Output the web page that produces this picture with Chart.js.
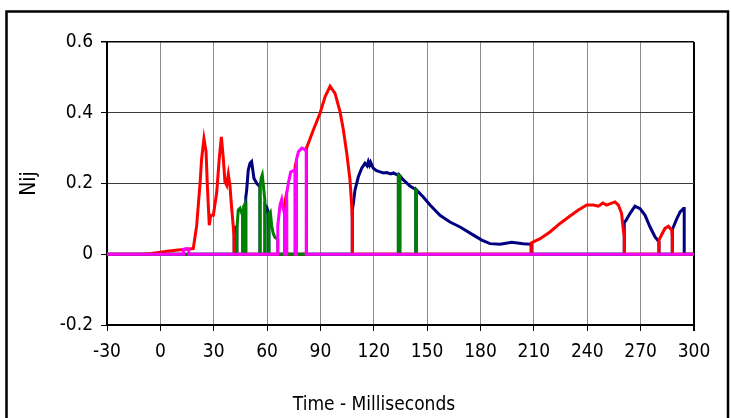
<!DOCTYPE html>
<html>
<head>
<meta charset="utf-8">
<script src="https://cdn.jsdelivr.net/npm/chart.js@4.4.1/dist/chart.umd.min.js"></script>
<style>
  html, body { margin: 0; padding: 0; background: #fff; }
  canvas { display: block; }
</style>
</head>
<body>
<canvas id="nijChart" width="731" height="418"></canvas>
<script>
// tick values on the time axis
const xTicks = [-30, 0, 30, 60, 90, 120, 150, 180, 210, 240, 270, 300];

// Nij traces, each one is non-zero only while its mode is the governing one
const magentaT = [-30, 13, 13, 14.5, 16, 16, 66, 66, 67.3, 68.2, 69, 69.8, 69.8, 71, 71, 71.9, 73.3, 74.7, 75.8, 75.8, 76.4, 76.4, 77.6, 79.5, 81.3, 82, 82, 300];
const magentaV = [0, 0, 0.014, 0.016, 0.015, 0, 0, 0.08, 0.14, 0.155, 0.13, 0.115, 0, 0, 0.17, 0.2, 0.233, 0.236, 0.24, 0, 0, 0.265, 0.29, 0.3, 0.296, 0.29, 0, 0];

const greenT = [-30, 43, 43, 43.8, 44.8, 45.5, 46.2, 46.2, 46.8, 46.8, 47.6, 48, 48, 56, 56, 56.7, 57.3, 58.2, 58.8, 58.8, 61, 61, 61.8, 62.6, 63.5, 64.4, 66, 66, 133.8, 133.8, 134.6, 134.6, 143.6, 143.6, 144, 144, 300];
const greenV = [0, 0, 0.07, 0.125, 0.13, 0.12, 0.11, 0, 0, 0.135, 0.143, 0.14, 0, 0, 0.19, 0.215, 0.224, 0.18, 0.15, 0, 0, 0.115, 0.12, 0.08, 0.058, 0.048, 0.042, 0, 0, 0.224, 0.222, 0, 0, 0.183, 0.182, 0, 0];

const redT = [-30, -10, -5, 0, 5, 10, 15, 18.5, 20.4, 22.3, 23.2, 24.5, 25.7, 26.4, 27.5, 28.3, 29.8, 31.7, 33.1, 34.3, 35.4, 36.3, 37.3, 38.2, 39.1, 40.1, 41.4, 41.5,
  69.8, 69.8, 70.5, 71, 71, 75.8, 75.8, 76.4, 76.4,
  82, 82, 82.3, 86, 89.7, 92.6, 95.4, 98.2, 101, 102.9, 104.8, 106.6, 107.6, 107.9, 107.9,
  208.5, 208.5, 213.5, 219, 224.7, 230.3, 235, 239.7, 243.4, 246.2, 247.5, 248.7, 250.9, 253, 255.6, 257.5, 259.3, 260.3, 260.8, 260.8,
  280.3, 280.3, 281.8, 283.7, 285.6, 287.5, 287.8, 287.8, 300];
const redV = [0, 0, 0.002, 0.006, 0.009, 0.012, 0.014, 0.016, 0.08, 0.2, 0.27, 0.327, 0.29, 0.195, 0.082, 0.11, 0.11, 0.176, 0.27, 0.332, 0.27, 0.205, 0.195, 0.226, 0.195, 0.13, 0.054, 0,
  0, 0.14, 0.16, 0.15, 0, 0, 0.25, 0.26, 0,
  0, 0.295, 0.3, 0.351, 0.398, 0.445, 0.475, 0.455, 0.403, 0.351, 0.285, 0.21, 0.134, 0.1, 0,
  0, 0.032, 0.044, 0.063, 0.087, 0.108, 0.125, 0.139, 0.139, 0.136, 0.14, 0.145, 0.139, 0.143, 0.148, 0.139, 0.115, 0.068, 0.05, 0,
  0, 0.04, 0.055, 0.073, 0.079, 0.068, 0.05, 0, 0];

const navyT = [-30, 41.5, 41.5, 42, 43, 43, 48, 48, 48.5, 49.4, 50.4, 51.3, 52.6, 54.2, 55.3, 56, 56, 58.8, 58.8, 59.8, 60.7, 61, 61,
  107.9, 107.9, 108.4, 109.4, 111.3, 113.2, 115, 116.2, 116.9, 117.6, 118.2, 119.7, 121.5, 123.5, 125.5, 127.2, 129.5, 131, 132.5, 133.8, 133.8, 134.6, 134.6,
  136.6, 140.3, 143.6, 143.6, 144, 144, 147.8, 151.6, 157.2, 162.8, 168.5, 176, 180.7, 185.3, 191, 197.5, 204, 208.5, 208.5,
  260.8, 260.8, 261.8, 264, 266.8, 269.7, 272.5, 275.3, 278.1, 280.3, 280.3, 287.8, 287.8, 288.4, 290.3, 292.2, 294.1, 294.5, 294.5, 300];
const navyV = [0, 0, 0.072, 0.075, 0.078, 0, 0, 0.16, 0.18, 0.238, 0.257, 0.262, 0.215, 0.2, 0.195, 0.19, 0, 0, 0.14, 0.134, 0.115, 0.11, 0,
  0, 0.125, 0.14, 0.181, 0.219, 0.243, 0.257, 0.25, 0.262, 0.252, 0.26, 0.243, 0.236, 0.233, 0.23, 0.231, 0.227, 0.23, 0.226, 0.224, 0, 0, 0.222,
  0.21, 0.193, 0.183, 0, 0, 0.182, 0.162, 0.139, 0.11, 0.091, 0.077, 0.054, 0.04, 0.03, 0.028, 0.034, 0.03, 0.028, 0,
  0, 0.09, 0.096, 0.115, 0.136, 0.129, 0.11, 0.077, 0.049, 0.035, 0, 0, 0.07, 0.077, 0.1, 0.12, 0.129, 0.129, 0, 0];

const FONT = '"Liberation Sans Narrow", "Arial Narrow", "DejaVu Sans Condensed", sans-serif';

const pts = (t, v) => t.map((x, i) => ({ x, y: v[i] }));
const near = (a, b) => Math.abs(a - b) < 1e-6;

// frame round the whole chart and the x axis title
const decorPlugin = {
  id: 'decor',
  afterDraw(chart) {
    const { ctx } = chart;
    ctx.save();
    ctx.strokeStyle = '#000';
    ctx.lineWidth = 2.5;
    ctx.strokeRect(6.5, 11.5, 721.5, 420);
    ctx.fillStyle = '#000';
    ctx.font = '19px ' + FONT;
    ctx.textAlign = 'center';
    ctx.textBaseline = 'middle';
    ctx.fillText('Time - Milliseconds', 374, 405);
    ctx.restore();
  }
};

const line = (label, t, v, color) => ({
  label,
  data: pts(t, v),
  borderColor: color,
  backgroundColor: color,
  borderWidth: 3,
  pointRadius: 0,
  tension: 0,
  fill: false
});

new Chart(document.getElementById('nijChart').getContext('2d'), {
  type: 'line',
  data: {
    datasets: [
      line('NCF', magentaT, magentaV, '#FF00FF'),
      line('NCE', greenT, greenV, '#008000'),
      line('NTE', redT, redV, '#FF0000'),
      line('NTF', navyT, navyV, '#000080')
    ]
  },
  options: {
    responsive: false,
    animation: false,
    layout: { padding: { top: 42, right: 37, left: 0, bottom: 0 } },
    plugins: { legend: { display: false }, tooltip: { enabled: false } },
    scales: {
      x: {
        type: 'linear',
        min: -30,
        max: 300,
        afterFit(s) { s.height = 93; },
        afterBuildTicks(s) { s.ticks = xTicks.map(value => ({ value })); },
        ticks: { color: '#000', padding: 10, font: { family: FONT, size: 19 } },
        grid: {
          color: c => (c.tick && near(c.tick.value, 300)) ? '#000' : '#8c8c8c',
          lineWidth: c => (c.tick && near(c.tick.value, 300)) ? 2 : 1,
          tickColor: '#000',
          tickLength: 6
        },
        border: { color: '#000', width: 2 }
      },
      y: {
        min: -0.2,
        max: 0.6,
        afterFit(s) { s.width = 107; },
        ticks: {
          stepSize: 0.2,
          color: '#000',
          padding: 8,
          font: { family: FONT, size: 19 },
          callback: v => String(Math.round(v * 10) / 10)
        },
        grid: {
          color: c => (c.tick && (near(c.tick.value, 0.6) || near(c.tick.value, -0.2))) ? '#000' : '#3a3a3a',
          lineWidth: c => (c.tick && near(c.tick.value, 0.6)) ? 1.5 : 1,
          tickColor: '#000',
          tickLength: 6
        },
        border: { color: '#000', width: 2 },
        title: {
          display: true,
          text: 'Nij',
          color: '#000',
          font: { family: FONT, size: 21 },
          padding: { top: 17, bottom: 0 }
        }
      }
    }
  },
  plugins: [decorPlugin]
});
</script>
</body>
</html>
